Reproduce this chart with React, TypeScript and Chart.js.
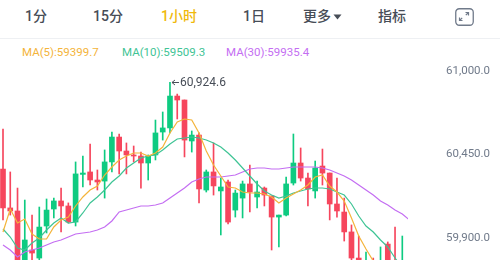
import React, { useEffect, useRef } from 'react';
import { Chart, registerables } from 'chart.js';

Chart.register(...registerables);

// ---- data ----
const tabLabels = ['1分', '15分', '1小时', '1日', '更多', '指标'];
const activeTab = '1小时';

const maLabels = ['MA(5)', 'MA(10)', 'MA(30)'];
const maLatest = [59399.7, 59509.3, 59935.4];

const yTickValues = [61000, 60450, 59900];

const opens = [60354, 60098, 60078, 59716, 59821, 59768, 59979, 60091, 60144, 60111, 60005, 60319, 60335, 60282, 60275, 60401, 60565, 60473, 60447, 60440, 60394, 60447, 60598, 60625, 60835, 60809, 60539, 60578, 60216, 60335, 60210, 60269, 60084, 60163, 60256, 60170, 60229, 60177, 60038, 60051, 60262, 60394, 60295, 60210, 60374, 60328, 60124, 60071, 59940, 59768, 59623, 59716, 59623, 59860, 59722, 59590, 59557];
const highs = [60618, 60335, 60229, 60150, 60051, 60104, 60157, 60163, 60229, 60131, 60401, 60440, 60519, 60348, 60480, 60598, 60585, 60526, 60506, 60466, 60447, 60677, 60730, 60924.6, 60848, 60809, 60605, 60592, 60348, 60526, 60295, 60282, 60216, 60275, 60381, 60275, 60236, 60177, 60051, 60302, 60585, 60493, 60328, 60407, 60486, 60328, 60295, 60163, 59986, 59913, 59808, 59768, 59841, 59874, 59972, 59913, 59650];
const lows = [60019, 60051, 59702, 59676, 59742, 59729, 59933, 60032, 59940, 59999, 59979, 60236, 60249, 60216, 60163, 60335, 60322, 60322, 60401, 60229, 60282, 60414, 60545, 60592, 60684, 60434, 60466, 60131, 60203, 60183, 59920, 59992, 60038, 60032, 60071, 60098, 60111, 59821, 59841, 60045, 60249, 60275, 60111, 60163, 60249, 60019, 60038, 59880, 59742, 59590, 59544, 59525, 59557, 59557, 59492, 59525, 59380];
const closes = [60098, 60078, 59742, 59887, 59801, 59972, 60084, 60144, 60111, 60005, 60322, 60328, 60282, 60269, 60401, 60565, 60473, 60447, 60440, 60394, 60440, 60592, 60625, 60835, 60809, 60545, 60578, 60223, 60335, 60243, 60236, 60005, 60196, 60256, 60203, 60203, 60183, 60038, 60051, 60256, 60394, 60295, 60223, 60361, 60328, 60124, 60078, 59940, 59768, 59656, 59722, 59590, 59742, 59702, 59557, 59742, 59420];

const ma5 = [59939.5, 60091.0, 59998.8, 60025.2, 59926.3, 59893.4, 59893.4, 59972.5, 60018.6, 60038.3, 60110.8, 60170.1, 60216.2, 60242.5, 60315.0, 60367.7, 60413.8, 60440.1, 60459.9, 60459.9, 60440.1, 60459.9, 60499.4, 60591.6, 60664.1, 60683.8, 60677.3, 60591.6, 60473.1, 60380.8, 60308.4, 60235.9, 60229.3, 60203.0, 60196.4, 60196.4, 60189.8, 60170.1, 60130.5, 60163.5, 60189.8, 60216.2, 60249.1, 60301.8, 60315.0, 60242.5, 60203.0, 60143.7, 60031.8, 59913.2, 59827.5, 59748.5, 59676.0, 59610.2, 59557.5, 59517.9, 59491.6];
const ma10 = [59959.3, 59906.6, 59834.1, 59820.9, 59867.1, 59900.0, 59952.7, 59998.8, 60031.8, 59998.8, 60005.4, 60064.7, 60130.5, 60170.1, 60216.2, 60268.9, 60308.4, 60361.1, 60394.0, 60427.0, 60440.1, 60446.7, 60479.6, 60519.2, 60552.1, 60558.7, 60565.3, 60558.7, 60545.5, 60525.8, 60499.4, 60459.9, 60413.8, 60361.1, 60308.4, 60255.7, 60209.6, 60183.2, 60163.5, 60176.6, 60196.4, 60209.6, 60222.8, 60229.3, 60229.3, 60222.8, 60203.0, 60183.2, 60124.0, 60044.9, 59979.0, 59939.5, 59886.8, 59840.7, 59768.3, 59702.4, 59656.3];
const ma30 = [59853.9, 59820.9, 59774.8, 59807.8, 59820.9, 59834.1, 59853.9, 59873.6, 59886.8, 59906.6, 59926.3, 59932.9, 59939.5, 59952.7, 59972.5, 60012.0, 60071.3, 60084.4, 60097.6, 60110.8, 60110.8, 60117.4, 60130.5, 60163.5, 60196.4, 60229.3, 60268.9, 60288.6, 60301.8, 60301.8, 60301.8, 60308.4, 60315.0, 60334.7, 60354.5, 60361.1, 60361.1, 60354.5, 60354.5, 60361.1, 60367.7, 60367.7, 60367.7, 60367.7, 60361.1, 60347.9, 60328.1, 60308.4, 60282.0, 60249.1, 60216.2, 60183.2, 60143.7, 60117.4, 60084.4, 60058.1, 60018.6];

// ---- styles ----
const UP = '#0ECB81';
const DOWN = '#F6465D';
const MA_COLORS = ['#F4B43A', '#3FC495', '#C46EF2'];
const TEXT_GREY = '#474D57';
const AXIS_GREY = '#707A8A';
const ACTIVE = '#F0B90B';

const fmt = (v: number) =>
  v.toLocaleString('en-US', { minimumFractionDigits: 1, maximumFractionDigits: 1 });

export default function App() {
  const ref = useRef<HTMLCanvasElement>(null);

  useEffect(() => {
    const idx = opens.map((_, i) => i);
    const colors = idx.map((i) => (closes[i] >= opens[i] ? UP : DOWN));
    let hi = 0;
    highs.forEach((h, i) => { if (h > highs[hi]) hi = i; });

    const highMarker = {
      id: 'highMarker',
      afterDatasetsDraw(chart: any) {
        const ctx = chart.ctx;
        const x = chart.scales.x.getPixelForValue(hi);
        const y = Math.round(chart.scales.y.getPixelForValue(highs[hi]));
        ctx.save();
        ctx.strokeStyle = '#474D57';
        ctx.fillStyle = '#474D57';
        ctx.lineWidth = 1;
        ctx.beginPath();
        ctx.moveTo(x + 2, y + 0.5);
        ctx.lineTo(x + 9, y + 0.5);
        ctx.moveTo(x + 2, y + 0.5);
        ctx.lineTo(x + 5, y - 2);
        ctx.moveTo(x + 2, y + 0.5);
        ctx.lineTo(x + 5, y + 3);
        ctx.stroke();
        ctx.font = '12px Roboto';
        ctx.textBaseline = 'middle';
        ctx.textAlign = 'left';
        ctx.fillText(fmt(highs[hi]), x + 10, y + 1);
        ctx.restore();
      },
    };

    const unitsPerPx = 1100 / 167;
    const yMax = 61000 + 11 * unitsPerPx;
    const yMin = yMax - 200 * unitsPerPx;

    const chart = new Chart(ref.current as HTMLCanvasElement, {
      type: 'bar',
      data: {
        datasets: [
          { type: 'line', data: idx.map((i) => ({ x: i, y: ma5[i] })), borderColor: MA_COLORS[0], borderWidth: 1.2, pointRadius: 0, tension: 0, order: 0 },
          { type: 'line', data: idx.map((i) => ({ x: i, y: ma10[i] })), borderColor: MA_COLORS[1], borderWidth: 1.2, pointRadius: 0, tension: 0, order: 0 },
          { type: 'line', data: idx.map((i) => ({ x: i, y: ma30[i] })), borderColor: MA_COLORS[2], borderWidth: 1.2, pointRadius: 0, tension: 0, order: 0 },
          { type: 'bar', data: idx.map((i) => ({ x: i, y: [lows[i], highs[i]] })), backgroundColor: colors, barThickness: 1, grouped: false, order: 2 } as any,
          { type: 'bar', data: idx.map((i) => ({ x: i, y: [opens[i], closes[i]] })), backgroundColor: colors, barThickness: 5, grouped: false, minBarLength: 1, order: 1 } as any,
        ],
      } as any,
      options: {
        animation: false,
        responsive: false,
        maintainAspectRatio: false,
        layout: { padding: 0 },
        plugins: { legend: { display: false }, tooltip: { enabled: false } },
        scales: {
          x: { type: 'linear', display: false, min: -0.413, max: 55.785, offset: false },
          y: {
            position: 'right',
            min: yMin,
            max: yMax,
            grid: { display: false, drawTicks: false },
            border: { display: false },
            afterBuildTicks: (s: any) => { s.ticks = yTickValues.map((v) => ({ value: v })); },
            afterFit: (s: any) => { s.width = 92; s.paddingTop = 0; s.paddingBottom = 0; },
            ticks: {
              padding: 38,
              color: AXIS_GREY,
              font: { family: 'Roboto', size: 11.5 },
              callback: (v: any) => fmt(Number(v)),
            },
          },
        },
      } as any,
      plugins: [highMarker],
    });
    return () => chart.destroy();
  }, []);

  const tabLeft = [25, 93, 161, 243, 303, 378];

  return (
    <div style={{ position: 'fixed', left: 0, top: 0, width: 500, height: 260, overflow: 'hidden', background: '#fff', fontFamily: "Roboto, 'Noto Sans CJK SC', sans-serif" }}>
      {tabLabels.map((t, i) => (
        <div key={t} style={{ position: 'absolute', left: tabLeft[i], top: 6, height: 20, lineHeight: '20px', fontSize: 14, fontWeight: 500, color: t === activeTab ? ACTIVE : TEXT_GREY, whiteSpace: 'nowrap', fontFamily: "Roboto, 'Noto Sans CJK SC', sans-serif" }}>
          {t}
          {t === '更多' && (
            <svg width="9" height="6" style={{ marginLeft: 2, verticalAlign: 'middle' }}>
              <path d="M0.5 0.5 L8.5 0.5 L4.5 5.5 Z" fill={TEXT_GREY} />
            </svg>
          )}
        </div>
      ))}
      <svg width="20" height="19" style={{ position: 'absolute', left: 455, top: 8 }}>
        <rect x="0.75" y="0.75" width="17.5" height="16.5" rx="3.5" fill="none" stroke="#707A8A" strokeWidth="1.3" />
        <path d="M10.5 4.5 L13.5 4.5 L13.5 7.5 M13.5 4.5 L10.8 7.2" fill="none" stroke="#707A8A" strokeWidth="1.2" />
        <path d="M4.5 9.5 L4.5 12.5 L7.5 12.5 M4.5 12.5 L7.2 9.8" fill="none" stroke="#707A8A" strokeWidth="1.2" />
      </svg>
      <div style={{ position: 'absolute', left: 0, top: 38, width: 500, height: 1, background: '#EEF0F3' }} />
      {maLabels.map((m, i) => (
        <div key={m} style={{ position: 'absolute', left: [22, 122, 226][i], top: 45, lineHeight: '14px', fontSize: 11.5, color: MA_COLORS[i], whiteSpace: 'nowrap', fontFamily: 'Roboto' }}>
          {m}:{maLatest[i].toFixed(1)}
        </div>
      ))}
      <canvas ref={ref} width={500} height={200} style={{ position: 'absolute', left: 0, top: 60, width: 500, height: 200 }} />
    </div>
  );
}
